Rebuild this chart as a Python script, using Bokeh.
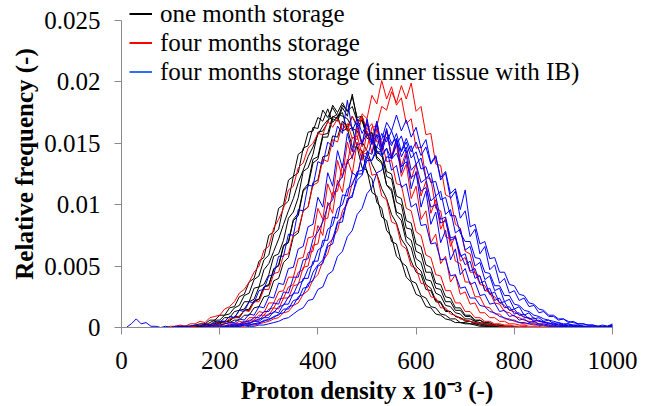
from bokeh.plotting import figure
from bokeh.models import Range1d, FixedTicker, Legend, LegendItem
from bokeh.embed import file_html
from bokeh.resources import INLINE

# Proton density grid (x 10^-3)
proton_density = list(range(0, 1001, 10))

# Relative frequency, in units of 1e-4
one_month_1 = [
    0,0,0,0,0,0,0,0,0,0,
    0,1,0,1,1,1,2,2,4,6,
    6,10,11,16,18,26,28,39,42,55,
    59,76,80,99,103,123,126,146,148,163,
    162,177,171,179,172,175,160,163,146,144,
    126,121,102,97,79,74,58,54,41,37,
    27,25,17,16,11,10,7,6,4,4,
    3,3,2,1,1,1,0,0,0,0,
    0,0,0,0,0,0,0,0,0,0,
    0,0,0,0,0,0,0,0,0,0,0]
one_month_2 = [
    0,0,0,0,0,0,0,0,0,0,
    0,0,1,0,1,1,1,3,2,5,
    4,8,8,13,14,21,21,32,33,47,
    52,62,72,84,95,105,118,128,139,147,
    157,164,169,171,174,172,170,162,160,151,
    144,133,125,113,105,92,85,72,66,54,
    45,43,31,30,21,20,13,13,9,8,
    5,5,3,3,2,2,1,1,0,0,
    0,0,0,0,0,0,0,0,0,0,
    0,0,0,0,0,0,0,0,0,0,0]
one_month_3 = [
    0,0,0,0,0,0,0,0,0,0,
    0,0,0,1,0,1,1,2,2,3,
    5,5,9,8,14,15,21,23,33,35,
    43,58,60,71,89,94,106,127,130,141,
    159,160,167,181,175,183,176,180,168,169,
    154,153,137,134,116,113,94,92,74,71,
    56,53,39,38,28,26,18,17,12,11,
    7,7,5,4,3,2,2,1,1,0,
    0,0,0,0,0,0,0,0,0,0,
    0,0,0,0,0,0,0,0,0,0,0]
one_month_4 = [
    0,0,0,0,0,0,0,0,0,0,
    0,0,0,0,1,0,1,1,2,2,
    4,4,6,8,8,14,14,21,23,33,
    35,47,51,67,70,88,93,112,117,137,
    139,157,158,172,170,181,176,188,171,172,
    157,156,139,135,116,111,92,87,70,65,
    50,46,35,32,22,21,14,13,9,8,
    6,5,4,3,2,2,1,1,0,0,
    0,0,0,0,0,0,0,0,0,0,
    0,0,0,0,0,0,0,0,0,0,0]
one_month_5 = [
    0,0,0,0,0,0,0,0,0,0,
    0,0,0,0,0,0,0,1,1,2,
    2,3,4,6,6,10,10,16,17,25,
    26,38,40,53,57,74,77,95,98,118,
    120,139,140,156,155,168,163,172,163,169,
    156,158,143,143,127,125,107,105,87,85,
    68,66,51,49,36,35,25,24,16,16,
    10,10,6,6,4,4,2,2,1,1,
    1,0,0,0,0,0,0,0,0,0,
    0,0,0,0,0,0,0,0,0,0,0]
one_month_6 = [
    0,0,0,0,0,0,0,0,0,0,
    0,0,1,1,1,2,3,3,6,6,
    10,10,16,17,25,27,37,40,54,57,
    75,78,97,100,120,123,141,144,159,160,
    171,168,178,167,172,160,162,147,147,130,
    128,110,107,90,87,70,68,53,50,38,
    36,26,24,17,16,11,10,7,7,4,
    4,3,3,2,1,1,1,0,0,0,
    0,0,0,0,0,0,0,0,0,0,
    0,0,0,0,0,0,0,0,0,0,0]
one_month_7 = [
    0,0,0,0,0,0,0,0,0,0,
    0,0,0,0,0,1,1,1,2,3,
    3,5,5,9,9,14,15,22,23,33,
    34,48,50,66,69,87,91,111,115,134,
    137,155,155,170,168,179,172,190,168,172,
    157,159,142,141,123,121,102,100,81,80,
    62,60,45,45,32,31,21,21,14,14,
    9,9,5,6,3,3,2,2,1,1,
    0,0,0,0,0,0,0,0,0,0,
    0,0,0,0,0,0,0,0,0,0,0]

four_months_1 = [
    0,0,0,0,0,0,0,0,0,0,
    1,1,2,1,3,3,5,4,8,9,
    10,15,17,21,28,31,37,45,50,63,
    66,81,88,97,112,115,130,134,146,150,
    158,157,168,163,170,161,166,154,156,141,
    142,124,125,107,104,86,84,67,64,50,
    48,36,35,25,24,16,16,11,10,7,
    6,5,4,3,3,2,2,1,1,1,
    0,0,1,0,0,0,0,0,0,0,
    0,0,0,0,0,0,0,0,0,0,0]
four_months_2 = [
    0,0,0,0,0,0,0,0,0,0,
    0,0,0,0,1,1,2,1,3,2,
    5,4,7,8,9,14,13,21,21,31,
    31,44,45,59,60,76,79,95,98,116,
    118,137,135,153,151,166,160,172,165,172,
    161,166,151,152,135,136,117,116,97,95,
    78,75,59,57,43,42,30,30,20,20,
    13,13,8,8,5,5,3,3,2,2,
    1,1,1,0,0,0,0,0,0,0,
    0,0,0,0,0,0,0,0,0,0,0]
four_months_3 = [
    0,0,0,0,0,0,0,0,0,0,
    0,0,0,0,0,0,0,0,1,1,
    2,1,3,3,5,4,8,8,13,12,
    20,20,29,30,41,41,56,57,73,74,
    97,88,117,106,136,122,151,137,163,147,
    169,151,168,147,161,137,149,123,133,105,
    115,88,95,69,76,52,58,37,43,27,
    29,19,20,12,12,8,8,5,5,3,
    3,2,2,1,1,1,0,0,0,0,
    0,0,0,0,0,0,0,0,0,0,0]
four_months_4 = [
    0,0,0,0,0,0,0,0,0,0,
    0,0,0,0,0,0,0,0,0,0,
    0,1,1,2,2,4,3,6,6,10,
    10,16,15,24,24,34,35,49,50,67,
    68,88,89,110,111,133,133,155,153,174,
    170,189,182,201,186,196,181,187,166,170,
    146,147,122,121,97,95,74,72,54,52,
    37,37,25,25,17,16,11,11,7,7,
    5,4,3,3,2,2,1,1,1,0,
    0,0,0,0,0,0,0,0,0,0,0]
four_months_5 = [
    0,0,0,0,0,0,0,0,0,0,
    0,0,0,0,0,0,0,0,0,0,
    0,0,0,0,1,1,2,2,3,4,
    5,7,8,12,13,18,20,27,30,39,
    43,54,60,73,79,95,101,118,124,141,
    146,163,164,180,177,192,183,197,186,199,
    176,180,157,158,133,132,108,106,84,81,
    62,60,44,42,30,29,20,19,13,12,
    9,8,6,5,4,3,2,2,1,1,
    1,0,0,0,0,0,0,0,0,0,0]
four_months_6 = [
    0,0,0,0,0,0,0,0,0,0,
    0,0,0,0,0,0,0,0,0,0,
    1,1,2,2,3,4,6,6,10,10,
    15,16,23,24,33,35,45,47,61,62,
    83,75,102,93,120,110,137,125,151,136,
    160,142,162,143,160,139,154,131,144,121,
    133,107,119,93,104,80,89,66,75,54,
    57,45,45,35,34,27,25,20,18,14,
    13,10,9,7,6,5,4,3,3,2,
    2,1,1,1,1,0,0,0,0,0,1]

inner_ib_1 = [
    0,0,3,7,3,4,1,1,0,1,
    0,1,1,1,1,2,1,3,2,4,
    5,5,9,8,14,13,21,20,30,31,
    42,43,58,58,76,75,96,95,116,115,
    135,133,151,147,164,158,185,160,170,158,
    166,151,157,141,146,128,132,114,117,98,
    101,83,84,68,69,55,56,42,43,32,
    33,24,24,18,17,13,12,9,8,6,
    6,4,4,3,3,2,2,1,1,1,
    1,0,0,0,0,0,0,0,0,0,1]
inner_ib_2 = [
    0,0,0,0,0,0,0,0,0,0,
    0,0,0,0,0,0,0,1,1,2,
    2,3,4,4,7,6,11,10,17,16,
    25,24,36,35,48,49,64,66,82,84,
    106,98,126,115,144,130,158,143,167,149,
    170,150,168,145,162,138,153,126,141,113,
    127,98,111,84,94,69,79,55,64,43,
    48,35,37,26,27,19,20,13,14,9,
    10,6,7,4,5,3,3,2,2,1,
    1,1,1,0,0,0,0,0,0,0,1]
inner_ib_3 = [
    0,0,0,0,0,0,0,0,0,0,
    0,0,0,0,0,0,0,0,0,1,
    1,1,2,3,3,5,5,8,8,13,
    13,20,19,29,28,41,41,55,56,72,
    78,86,99,104,117,123,135,139,149,150,
    158,149,165,147,160,150,154,139,147,128,
    133,118,121,103,107,88,90,73,74,60,
    51,54,40,42,30,32,22,24,16,17,
    11,12,8,8,5,6,4,4,2,3,
    1,2,1,1,1,0,0,0,0,0,2]
inner_ib_4 = [
    0,0,0,0,0,0,0,0,0,0,
    0,0,0,0,0,0,0,0,0,0,
    0,1,1,1,2,3,3,5,5,8,
    8,13,12,19,19,28,28,40,40,54,
    54,71,71,90,89,108,107,126,123,141,
    138,152,147,158,151,160,149,156,142,148,
    133,138,121,126,107,111,92,96,77,80,
    63,66,50,53,39,42,30,32,21,23,
    15,17,10,12,7,8,5,6,3,4,
    2,3,1,2,1,1,1,0,1,0,2]
inner_ib_5 = [
    0,0,0,0,0,0,0,0,0,0,
    0,0,0,0,0,0,0,0,0,0,
    0,0,0,1,1,2,2,3,4,5,
    7,8,11,12,17,18,25,27,36,38,
    50,52,66,68,85,86,105,106,125,125,
    143,141,157,153,167,160,173,160,169,155,
    163,146,153,134,140,120,126,105,111,89,
    95,74,80,60,66,47,51,36,40,28,
    30,22,24,17,18,12,13,9,9,6,
    7,4,5,3,3,2,2,1,2,1,3]
inner_ib_6 = [
    0,0,0,0,0,0,0,0,0,0,
    0,0,0,0,0,0,0,0,0,0,
    0,0,0,1,1,2,2,3,3,6,
    6,9,10,15,15,22,23,32,33,45,
    51,55,68,72,86,90,103,108,120,124,
    136,136,147,143,155,148,158,143,151,138,
    143,129,131,118,119,104,106,91,91,77,
    70,70,57,56,45,44,34,34,26,26,
    19,18,14,13,10,9,7,6,5,4,
    3,3,2,2,1,1,1,1,0,1,2]
inner_ib_7 = [
    0,0,0,0,0,0,0,0,0,0,
    0,0,0,0,0,0,0,0,0,0,
    0,0,0,0,0,0,1,1,2,2,
    3,4,5,7,8,11,14,16,22,23,
    31,33,43,46,58,62,74,79,92,97,
    109,114,126,128,139,138,149,144,154,143,
    151,140,147,133,139,122,127,109,113,96,
    112,82,84,68,70,56,57,45,45,35,
    34,27,26,20,19,15,14,10,10,7,
    7,5,4,3,3,2,2,1,1,1,2]
inner_ib_8 = [
    0,0,0,0,0,0,0,0,0,0,
    0,0,0,0,0,0,0,0,0,0,
    0,1,1,2,2,3,4,5,7,8,
    11,12,17,18,25,27,36,38,48,51,
    63,66,80,83,97,100,113,116,127,128,
    138,136,144,139,146,137,142,131,135,122,
    125,111,114,98,100,85,87,71,73,58,
    60,46,48,36,38,27,29,20,21,14,
    15,10,11,7,8,5,5,3,4,2,
    2,1,2,1,1,0,0,0,0,0,1]

one_month = [one_month_1, one_month_2, one_month_3, one_month_4,
             one_month_5, one_month_6, one_month_7]
four_months = [four_months_1, four_months_2, four_months_3,
               four_months_4, four_months_5, four_months_6]
inner_ib = [inner_ib_1, inner_ib_2, inner_ib_3, inner_ib_4,
            inner_ib_5, inner_ib_6, inner_ib_7, inner_ib_8]
UNIT = 1e-4

series_labels = ["one month storage", "four months storage",
                 "four months storage (inner tissue with IB)"]
x_ticks = [0, 200, 400, 600, 800, 1000]
y_ticks = [0, 0.005, 0.01, 0.015, 0.02, 0.025]
y_tick_labels = ["0", "0.005", "0.01", "0.015", "0.02", "0.025"]

FONT = "Liberation Serif"
AXIS_GRAY = "#8a8a8a"

# frame spans the full height so the top legend row is not clipped;
# the y axis line itself stops at 0.025
p = figure(width=650, height=406, output_backend="svg", toolbar_location=None,
           x_range=Range1d(0, 1000), y_range=Range1d(0, 0.026623),
           min_border_left=121, min_border_right=38,
           min_border_top=0, min_border_bottom=78)
p.outline_line_color = None
p.grid.visible = False
p.background_fill_color = "white"
p.border_fill_color = "white"

for group, color in ((one_month, "#000000"), (four_months, "#ff0000"),
                     (inner_ib, "#0000ff")):
    for curve in group:
        if len(curve) != len(proton_density):
            continue
        p.line(proton_density, [v * UNIT for v in curve],
               line_color=color, line_width=1)

# axes
p.xaxis.ticker = FixedTicker(ticks=x_ticks)
p.yaxis.ticker = FixedTicker(ticks=y_ticks)
p.yaxis.major_label_overrides = dict(zip(y_ticks, y_tick_labels))
p.xaxis.bounds = (0, 1000)
p.yaxis.bounds = (0, 0.025)
p.axis.axis_line_color = AXIS_GRAY
p.axis.major_tick_line_color = AXIS_GRAY
p.axis.minor_tick_line_color = None
p.axis.major_tick_in = 0
p.axis.major_tick_out = 7
p.axis.major_label_text_font = FONT
p.axis.major_label_text_font_size = "25px"
p.axis.major_label_text_color = "black"
p.yaxis.major_label_text_line_height = 1.0
p.xaxis.major_label_text_line_height = 0.9
p.yaxis.major_label_standoff = 14
p.xaxis.major_label_standoff = 17
p.xaxis.axis_label = "Proton density x 10\u207b\u00b3 (-)"
p.yaxis.axis_label = "Relative frequency (-)"
p.axis.axis_label_text_font = FONT
p.axis.axis_label_text_font_style = "bold"
p.axis.axis_label_text_font_size = "25px"
p.axis.axis_label_text_color = "black"
p.xaxis.axis_label_text_line_height = 0.8
p.yaxis.axis_label_text_line_height = 1.0
p.xaxis.axis_label_standoff = 5
p.yaxis.axis_label_standoff = 3

# legend (swatch renderers hold a single undefined point only)
nan = float("nan")
sw_black = p.line([nan], [nan], line_color="#000000", line_width=2)
sw_red = p.line([nan], [nan], line_color="#ff0000", line_width=2)
sw_blue = p.line([nan], [nan], line_color="#2f6bff", line_width=2)
legend = Legend(items=[LegendItem(label=series_labels[0], renderers=[sw_black]),
                       LegendItem(label=series_labels[1], renderers=[sw_red]),
                       LegendItem(label=series_labels[2], renderers=[sw_blue])],
                location=(8, 241), background_fill_alpha=0,
                border_line_color=None, padding=0, margin=0,
                label_text_font=FONT, label_text_font_size="25px",
                label_text_color="black", label_text_line_height=1.0,
                glyph_width=23, glyph_height=29, label_height=29,
                label_standoff=8, spacing=0)
p.add_layout(legend)

open("out.html", "w").write(file_html(p, INLINE))
